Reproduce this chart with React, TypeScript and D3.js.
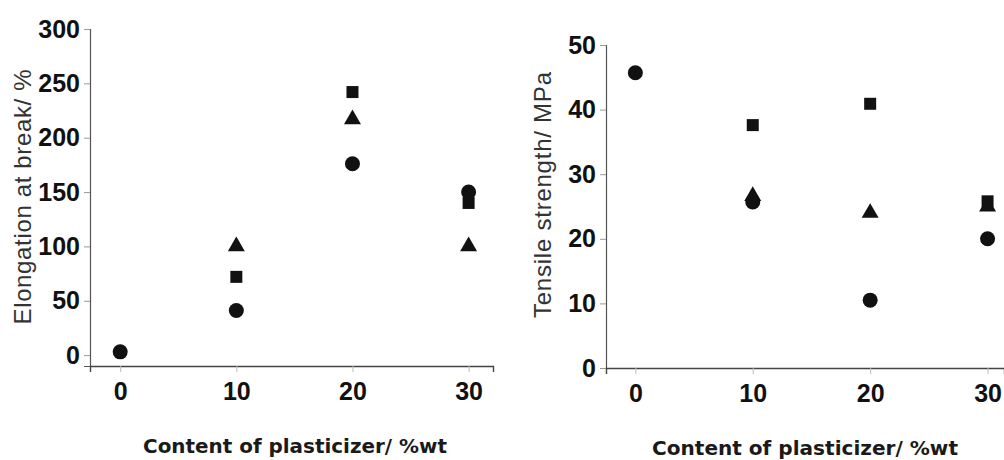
import React, { useEffect, useRef } from 'react';
import * as d3 from 'd3';

// plasticizer content, %wt
const contents = [0, 10, 20, 30];

// elongation at break, %
const elongCircle = [3, 41, 176, 150];
const elongSquare = [null, 72, 242, 140];
const elongTriangle = [null, 100, 217, 100];

// tensile strength, MPa
const tensileCircle = [45.7, 25.7, 10.5, 20];
const tensileSquare = [null, 37.6, 40.9, 25.8];
const tensileTriangle = [null, 26.6, 24, 25];

const elongTicks = [0, 50, 100, 150, 200, 250, 300];
const tensileTicks = [0, 10, 20, 30, 40, 50];
const xTicks = [0, 10, 20, 30];

const App = () => {
  const ref = useRef<SVGSVGElement>(null);

  useEffect(() => {
    const svg = d3.select(ref.current);
    svg.selectAll('*').remove();

    const drawPanel = (opts: any) => {
      const g = svg.append('g');
      const x = d3.scaleLinear().domain(opts.xDomain).range(opts.xRange);
      const y = d3.scaleLinear().domain(opts.yDomain).range(opts.yRange);

      // y axis
      const ya = g
        .append('g')
        .attr('transform', `translate(${opts.xRange[0]},0)`)
        .call(d3.axisLeft(y).tickValues(opts.yTicks).tickSize(6).tickPadding(4).tickFormat(d3.format('d')));
      ya.select('.domain').attr('stroke', '#555').attr('stroke-width', 1.2);
      ya.selectAll('.tick line').attr('stroke', '#999');
      ya.selectAll('.tick text')
        .attr('font-family', 'Liberation Sans, Arial, sans-serif')
        .attr('font-size', 25)
        .attr('font-weight', 'bold')
        .attr('fill', '#111');

      // x axis
      const xa = g
        .append('g')
        .attr('transform', `translate(0,${opts.yRange[0]})`)
        .call(d3.axisBottom(x).tickValues(xTicks).tickSize(6).tickPadding(10).tickFormat(d3.format('d')));
      xa.select('.domain').attr('stroke', '#444').attr('stroke-width', 1.4);
      xa.selectAll('.tick line').attr('stroke', '#bbb');
      xa.selectAll('.tick text')
        .attr('font-family', 'Liberation Sans, Arial, sans-serif')
        .attr('font-size', 25)
        .attr('font-weight', 'bold')
        .attr('fill', '#111');

      // titles
      g.append('text')
        .attr('x', opts.xTitle[0])
        .attr('y', opts.xTitle[1])
        .attr('text-anchor', 'middle')
        .attr('font-family', 'DejaVu Sans, sans-serif')
        .attr('font-size', 19)
        .attr('font-weight', 'bold')
        .attr('fill', '#1a1a1a')
        .attr('textLength', opts.xTitle[2])
        .attr('lengthAdjust', 'spacingAndGlyphs')
        .text('Content of plasticizer/ %wt');

      g.append('text')
        .attr('transform', `translate(${opts.yTitle[0]},${opts.yTitle[1]}) rotate(-90)`)
        .attr('text-anchor', 'middle')
        .attr('font-family', 'Liberation Sans, Arial, sans-serif')
        .attr('font-size', 24)
        .attr('fill', '#333')
        .attr('textLength', opts.yTitle[2])
        .attr('lengthAdjust', 'spacing')
        .text(opts.yLabel);

      const series = [
        { vals: opts.tri, type: d3.symbolTriangle, size: 125 },
        { vals: opts.sq, type: d3.symbolSquare, size: 144 },
        { vals: opts.circ, type: d3.symbolCircle, size: 177 },
      ];
      series.forEach((s) => {
        g.selectAll(null)
          .data(contents.map((c, i) => ({ c, v: s.vals[i] })).filter((d) => d.v != null))
          .enter()
          .append('path')
          .attr('d', d3.symbol().type(s.type).size(s.size))
          .attr('transform', (d: any) => `translate(${x(d.c)},${y(d.v)})`)
          .attr('fill', '#111');
      });
    };

    drawPanel({
      xDomain: [-2.6, 32.1],
      xRange: [90, 493],
      yDomain: [-10, 300],
      yRange: [366, 29],
      yTicks: elongTicks,
      circ: elongCircle,
      sq: elongSquare,
      tri: elongTriangle,
      xTitle: [295, 453, 304],
      yTitle: [31, 197, 255],
      yLabel: 'Elongation at break/ %',
    });

    drawPanel({
      xDomain: [-2.5, 31.4],
      xRange: [606, 1004],
      yDomain: [0, 50],
      yRange: [368, 45],
      yTicks: tensileTicks,
      circ: tensileCircle,
      sq: tensileSquare,
      tri: tensileTriangle,
      xTitle: [805, 455, 306],
      yTitle: [551, 195, 246],
      yLabel: 'Tensile strength/ MPa',
    });
  }, []);

  return (
    <svg
      ref={ref}
      width={1004}
      height={460}
      style={{ position: 'absolute', left: 0, top: 0, background: '#fff' }}
    />
  );
};

export default App;
